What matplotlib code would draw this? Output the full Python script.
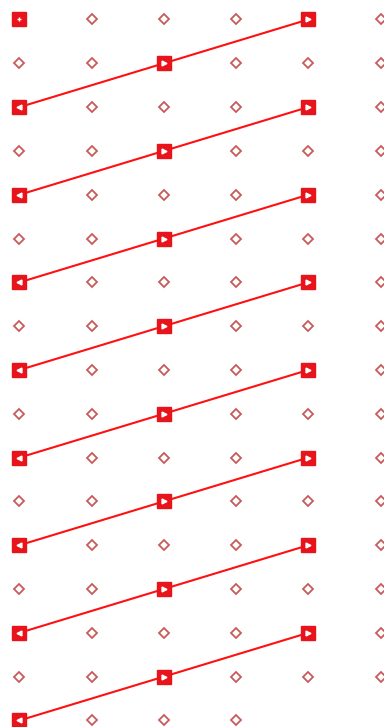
import matplotlib
matplotlib.use("Agg")
import matplotlib.pyplot as plt

# ---------- Data ----------
n_items = 100
n_cols = 6

# items drawn as filled squares (the rest are hollow diamonds)
square_items = [0, 4, 8, 12, 16, 20, 24, 28, 32, 36, 40, 44, 48,
                52, 56, 60, 64, 68, 72, 76, 80, 84, 88, 92, 96]
# glyph shown inside each square
square_glyphs = ['+', '>', '>', '<', '>', '>', '<', '>', '>', '<', '>', '>', '<',
                 '>', '>', '<', '>', '>', '<', '>', '>', '<', '>', '>', '<']
# squares that are joined by a line
line_groups = [[4, 8, 12], [16, 20, 24], [28, 32, 36], [40, 44, 48],
               [52, 56, 60], [64, 68, 72], [76, 80, 84], [88, 92, 96]]

red = '#e8141c'
diamond_col = '#c85a5a'


def pos(i):
    return i % n_cols, i // n_cols


# ---------- Plot ----------
fig = plt.figure(figsize=(3.84, 7.27), dpi=100)
ax = fig.add_axes([0, 0, 1, 1])

for i in range(n_items):
    if i in square_items:
        continue
    x, y = pos(i)
    ax.plot(x, y, marker='D', ms=5.6, mfc='none', mec=diamond_col, mew=1.3, zorder=2)

for grp in line_groups:
    xs = [pos(i)[0] for i in grp]
    ys = [pos(i)[1] for i in grp]
    ax.plot(xs, ys, color='#ff1010', lw=1.5, zorder=3)

for i, g in zip(square_items, square_glyphs):
    x, y = pos(i)
    ax.plot(x, y, marker='s', ms=9.5, color=red, zorder=4)
    ax.plot(x, y, marker=g, ms=3.5, color='white', mew=1.0, zorder=5)

ax.set_xlim(-0.27, 5.048)
ax.set_ylim(16.15, -0.445)
ax.axis('off')

fig.savefig('out.png', dpi=100, facecolor='white')
